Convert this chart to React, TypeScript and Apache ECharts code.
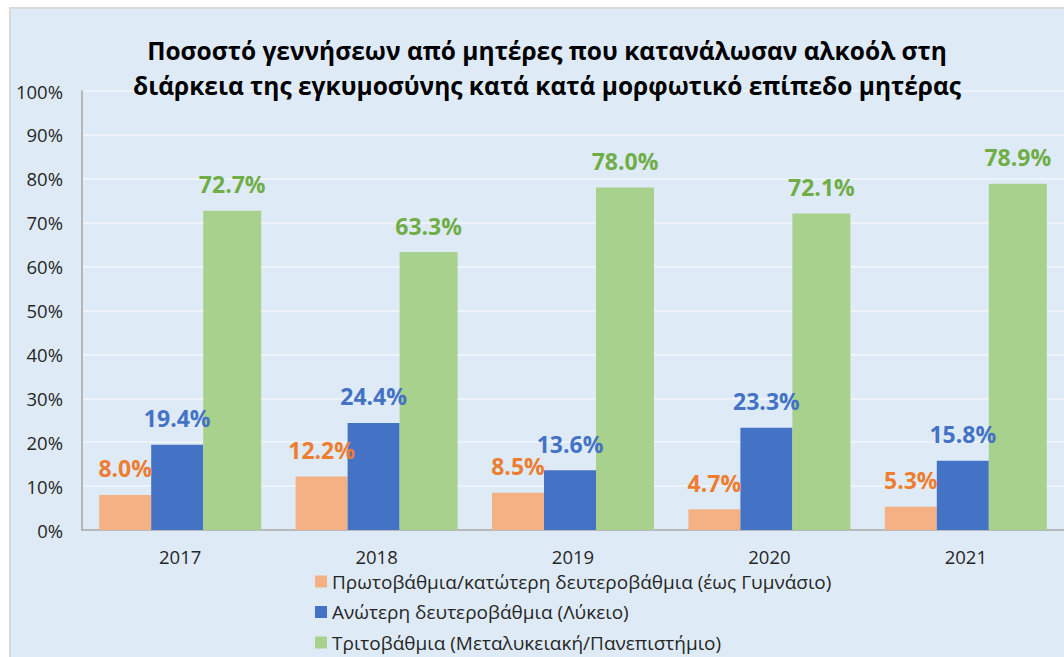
import React, { useEffect, useRef } from "react";
import * as echarts from "echarts";

const years = ["2017", "2018", "2019", "2020", "2021"];
const seriesNames = [
  "Πρωτοβάθμια/κατώτερη δευτεροβάθμια (έως Γυμνάσιο)",
  "Ανώτερη δευτεροβάθμια (Λύκειο)",
  "Τριτοβάθμια (Μεταλυκειακή/Πανεπιστήμιο)",
];
const primary = [8.0, 12.2, 8.5, 4.7, 5.3];
const upperSecondary = [19.4, 24.4, 13.6, 23.3, 15.8];
const tertiary = [72.7, 63.3, 78.0, 72.1, 78.9];

const titleText =
  "Ποσοστό γεννήσεων από μητέρες που κατανάλωσαν αλκοόλ στη\nδιάρκεια της εγκυμοσύνης κατά κατά μορφωτικό επίπεδο μητέρας";

const FONT = "'Open Sans', 'Noto Sans', sans-serif";

export default function App() {
  const ref = useRef<HTMLDivElement>(null);
  useEffect(() => {
    if (!ref.current) return;
    const chart = echarts.init(ref.current, null, { renderer: "svg" });
    const mk = (
      name: string,
      data: number[],
      barColor: string,
      labelColor: string,
      width: number
    ) => ({
      name,
      type: "bar",
      data,
      barWidth: width,
      barGap: "0%",
      itemStyle: { color: barColor },
      label: {
        show: true,
        position: "top",
        distance: 15,
        color: labelColor,
        fontFamily: FONT,
        fontWeight: "bold",
        fontSize: 23,
        formatter: (p: any) => p.value.toFixed(1) + "%",
      },
    });
    chart.setOption({
      animation: false,
      backgroundColor: "#ffffff",
      textStyle: { fontFamily: FONT },
      graphic: [
        {
          type: "rect",
          z: -10,
          silent: true,
          shape: { x: 10, y: 8, width: 1100, height: 700 },
          style: { fill: "#DEEBF7", stroke: "#D9D9D9", lineWidth: 2 },
        },
      ],
      title: {
        text: titleText,
        left: 542,
        top: 28,
        textAlign: "center",
        textStyle: {
          fontFamily: FONT,
          fontWeight: "bold",
          fontSize: 24.5,
          lineHeight: 35,
          color: "#000000",
        },
      },
      legend: {
        orient: "vertical",
        left: 315,
        top: 572,
        height: 140,
        padding: 0,
        itemWidth: 12,
        itemHeight: 12,
        itemGap: 11.5,
        icon: "rect",
        textStyle: { fontFamily: FONT, fontSize: 19, color: "#262626" },
        data: seriesNames,
      },
      grid: { left: 82, right: -4, top: 91, bottom: 127, containLabel: false },
      xAxis: {
        type: "category",
        data: years,
        axisLine: { lineStyle: { color: "#A6A6A6", width: 1.5 } },
        axisTick: { show: false },
        axisLabel: {
          margin: 17,
          fontFamily: FONT,
          fontSize: 18.5,
          color: "#262626",
        },
      },
      yAxis: {
        type: "value",
        min: 0,
        max: 100,
        interval: 10,
        axisLine: { show: true, lineStyle: { color: "#A6A6A6", width: 1.5 } },
        axisTick: { show: false },
        splitLine: { lineStyle: { color: "#F2F6FB", width: 1.5 } },
        axisLabel: {
          margin: 19,
          formatter: "{value}%",
          fontFamily: FONT,
          fontSize: 18.5,
          color: "#262626",
        },
      },
      series: [
        mk(seriesNames[0], primary, "#F4B183", "#ED7D31", 52),
        mk(seriesNames[1], upperSecondary, "#4472C4", "#4472C4", 52),
        mk(seriesNames[2], tertiary, "#A9D18E", "#70AD47", 58),
      ],
    });
    return () => chart.dispose();
  }, []);
  return (
    <div
      ref={ref}
      style={{ position: "absolute", left: 0, top: 0, width: 1064, height: 657 }}
    />
  );
}
